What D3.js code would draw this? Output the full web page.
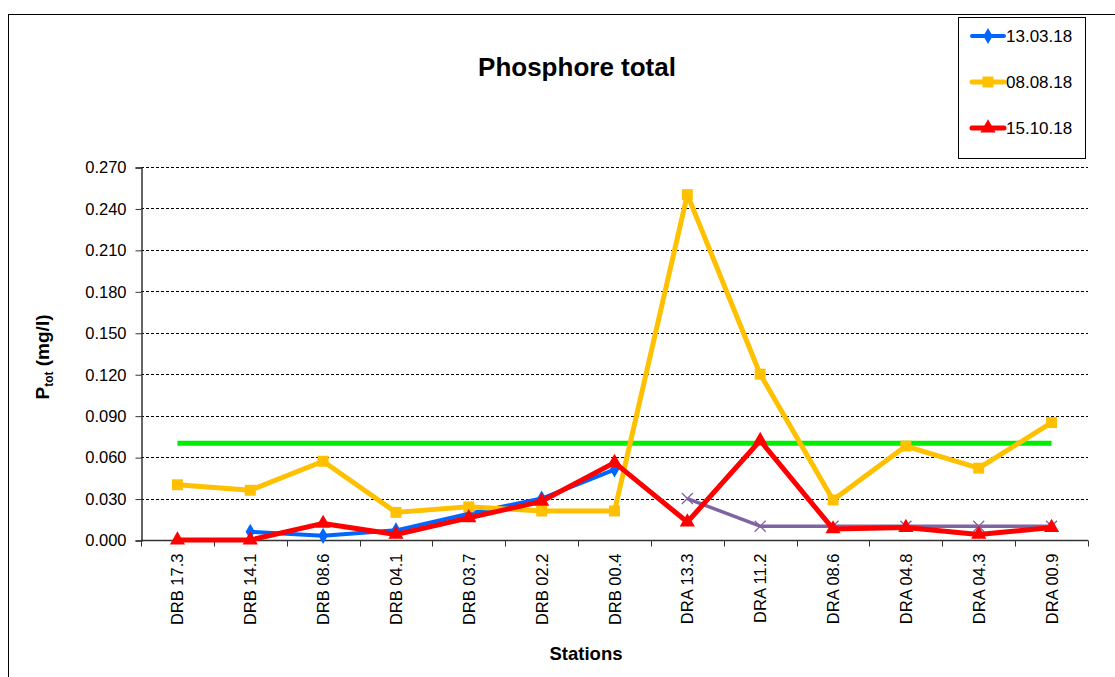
<!DOCTYPE html>
<html>
<head>
<meta charset="utf-8">
<script src="https://cdn.jsdelivr.net/npm/d3@7"></script>
<style>
  body { margin: 0; background: #fff; }
  text { font-family: Arial, "Liberation Sans", sans-serif; }
</style>
</head>
<body>
<svg width="1115" height="677"></svg>
<script>
var stations = ["DRB 17.3", "DRB 14.1", "DRB 08.6", "DRB 04.1", "DRB 03.7", "DRB 02.2", "DRB 00.4",
                "DRA 13.3", "DRA 11.2", "DRA 08.6", "DRA 04.8", "DRA 04.3", "DRA 00.9"];
var yTicks = [0, 0.03, 0.06, 0.09, 0.12, 0.15, 0.18, 0.21, 0.24, 0.27];

// null = no sample
var mar18 = [null, 0.006, 0.003, 0.007, 0.019, 0.030, 0.051, null, null, null, null, null, null];
var aug18 = [0.040, 0.036, 0.057, 0.020, 0.024, 0.021, 0.021, 0.250, 0.120, 0.029, 0.068, 0.052, 0.085];
var oct18 = [0.000, 0.000, 0.012, 0.004, 0.016, 0.028, 0.056, 0.013, 0.072, 0.008, 0.009, 0.004, 0.009];
var extra = [null, null, null, null, null, null, null, 0.030, 0.010, 0.010, 0.010, 0.010, 0.010];
var limit = stations.map(function() { return 0.070; });

var svg = d3.select("svg"),
    plotL = 141, plotR = 1088, plotT = 167, plotB = 540;

// outer frame
svg.append("rect").attr("x", 8.5).attr("y", 14.5).attr("width", 1200).attr("height", 700)
  .attr("fill", "none").attr("stroke", "#000").attr("stroke-width", 1);

var x = d3.scaleBand().domain(stations).range([plotL, plotR]);
var y = d3.scaleLinear().domain([0, 0.27]).range([plotB, plotT]);

// grid
svg.append("g").selectAll("line").data(yTicks.slice(1)).enter().append("line")
  .attr("x1", plotL).attr("x2", plotR)
  .attr("y1", function(d) { return Math.round(y(d)) + 0.5; })
  .attr("y2", function(d) { return Math.round(y(d)) + 0.5; })
  .attr("stroke", "#000").attr("stroke-dasharray", "3,2").attr("stroke-width", 1);

// axes
var yAxis = svg.append("g").attr("transform", "translate(" + (plotL + 0.5) + ",0.5)")
  .call(d3.axisLeft(y).tickValues(yTicks).tickFormat(d3.format(".3f")).tickSize(6).tickPadding(9));
yAxis.select(".domain").attr("stroke", "#333").attr("stroke-width", 1.5);
yAxis.selectAll(".tick line").attr("stroke", "#333");
yAxis.selectAll("text").attr("font-size", 16.5).attr("fill", "#000")
  .style("font-family", "Arial, 'Liberation Sans', sans-serif");

var xAxis = svg.append("g").attr("transform", "translate(0," + (plotB + 0.5) + ")");
xAxis.append("line").attr("x1", plotL).attr("x2", plotR).attr("stroke", "#333").attr("stroke-width", 1.5);
xAxis.selectAll(".tk").data(d3.range(stations.length + 1)).enter().append("line")
  .attr("x1", function(i) { return Math.round(plotL + i * x.step()) + 0.5; })
  .attr("x2", function(i) { return Math.round(plotL + i * x.step()) + 0.5; })
  .attr("y1", 0).attr("y2", 6).attr("stroke", "#333");
xAxis.selectAll(".lb").data(stations).enter().append("text")
  .attr("transform", function(d) { return "translate(" + (x(d) + x.bandwidth() / 2 + 6) + ",13) rotate(-90)"; })
  .attr("text-anchor", "end").attr("font-size", 16.5).text(function(d) { return d; });

// titles
svg.append("text").attr("x", 577).attr("y", 76).attr("text-anchor", "middle")
  .attr("font-size", 26).attr("font-weight", "bold").text("Phosphore total");
svg.append("text").attr("x", 586).attr("y", 660).attr("text-anchor", "middle")
  .attr("font-size", 18.5).attr("font-weight", "bold").text("Stations");
var yl = svg.append("text").attr("transform", "translate(49,357) rotate(-90)")
  .attr("text-anchor", "middle").attr("font-size", 19).attr("font-weight", "bold");
yl.append("tspan").text("P");
yl.append("tspan").attr("font-size", 12).attr("dy", 4).text("tot");
yl.append("tspan").attr("dy", -4).text(" (mg/l)");

var line = d3.line()
  .defined(function(d) { return d != null; })
  .x(function(d, i) { return x(stations[i]) + x.bandwidth() / 2; })
  .y(function(d) { return y(d); });

function pts(arr) {
  return arr.map(function(v, i) { return { v: v, s: stations[i] }; }).filter(function(d) { return d.v != null; });
}

var series = [
  { data: limit, color: "#00ee00", width: 5, symbol: null },
  { data: extra, color: "#8064a2", width: 3.5, symbol: "x" },
  { data: mar18, color: "#0066ff", width: 4, symbol: d3.symbolDiamond, size: 75 },
  { data: aug18, color: "#ffc000", width: 5, symbol: d3.symbolSquare, size: 120 },
  { data: oct18, color: "#ff0000", width: 5, symbol: d3.symbolTriangle, size: 100 }
];

series.forEach(function(s) {
  svg.append("path").datum(s.data).attr("d", line)
    .attr("fill", "none").attr("stroke", s.color).attr("stroke-width", s.width)
    .attr("stroke-linejoin", "round");
  if (!s.symbol) return;
  var g = svg.append("g");
  pts(s.data).forEach(function(p) {
    var cx = x(p.s) + x.bandwidth() / 2, cy = y(p.v);
    if (s.symbol === "x") {
      g.append("path").attr("d", "M" + (cx - 5.5) + "," + (cy - 5.5) + "L" + (cx + 5.5) + "," + (cy + 5.5) +
          "M" + (cx - 5.5) + "," + (cy + 5.5) + "L" + (cx + 5.5) + "," + (cy - 5.5))
        .attr("stroke", s.color).attr("stroke-width", 1.3);
    } else {
      g.append("path").attr("d", d3.symbol().type(s.symbol).size(s.size)())
        .attr("transform", "translate(" + cx + "," + cy + ")").attr("fill", s.color);
    }
  });
});

// legend
var legend = svg.append("g");
legend.append("rect").attr("x", 958.5).attr("y", 17.5).attr("width", 127).attr("height", 141)
  .attr("fill", "#fff").attr("stroke", "#000");
var legItems = [
  { label: "13.03.18", s: series[2] },
  { label: "08.08.18", s: series[3] },
  { label: "15.10.18", s: series[4] }
];
legItems.forEach(function(d, i) {
  var ly = 36 + i * 46;
  legend.append("line").attr("x1", 972).attr("x2", 1004).attr("y1", ly).attr("y2", ly)
    .attr("stroke", d.s.color).attr("stroke-width", d.s.width).attr("stroke-linecap", "round");
  legend.append("path").attr("d", d3.symbol().type(d.s.symbol).size(d.s.size)())
    .attr("transform", "translate(988," + ly + ")").attr("fill", d.s.color);
  legend.append("text").attr("x", 1006).attr("y", ly + 6).attr("font-size", 17).text(d.label);
});
</script>
</body>
</html>
